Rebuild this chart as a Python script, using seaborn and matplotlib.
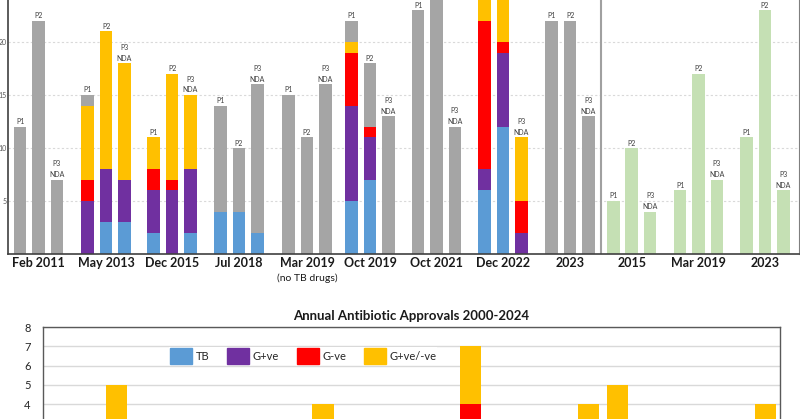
import numpy as np
import pandas as pd
import seaborn as sns
import matplotlib.pyplot as plt
from matplotlib.patches import Patch

sns.set_style("white")
plt.rcParams['font.family'] = ['Lato', 'DejaVu Sans']

# Top panel: pipeline snapshots, three bars (P1, P2, P3/NDA) per snapshot
snapshots = ["Feb 2011", "May 2013", "Dec 2015", "Jul 2018", "Mar 2019", "Oct 2019",
             "Oct 2021", "Dec 2022", "2023", "2015", "Mar 2019", "2023"]
snapshot_notes = ["", "", "", "", "(no TB drugs)", "", "", "", "", "", "", ""]
panel = ["gray"] * 9 + ["green"] * 3
phases = ["P1", "P2", "P3"]

# values per bar, snapshot by snapshot (P1, P2, P3)
tb = [0, 0, 0,  0, 3, 3,  2, 0, 2,  4, 4, 2,  0, 0, 0,  5, 7, 0,
      0, 0, 0,  6, 12, 0,  0, 0, 0,  0, 0, 0,  0, 0, 0,  0, 0, 0]
gpos = [0, 0, 0,  5, 5, 4,  4, 6, 6,  0, 0, 0,  0, 0, 0,  9, 4, 0,
        0, 0, 0,  2, 7, 2,  0, 0, 0,  0, 0, 0,  0, 0, 0,  0, 0, 0]
gneg = [0, 0, 0,  2, 0, 0,  2, 1, 0,  0, 0, 0,  0, 0, 0,  5, 1, 0,
        0, 0, 0,  14, 1, 3,  0, 0, 0,  0, 0, 0,  0, 0, 0,  0, 0, 0]
broad = [0, 0, 0,  7, 13, 11,  3, 10, 7,  0, 0, 0,  0, 0, 0,  1, 0, 0,
         0, 0, 0,  4, 6, 6,  0, 0, 0,  0, 0, 0,  0, 0, 0,  0, 0, 0]
other = [12, 22, 7,  1, 0, 0,  0, 0, 0,  10, 6, 14,  15, 11, 16,  2, 6, 13,
         23, 26, 12,  0, 0, 0,  22, 22, 13,  5, 10, 4,  6, 17, 7,  11, 23, 6]

# Bottom panel: annual approvals
years = list(range(2000, 2025))
ann_tb = [0, 0, 0, 0, 0, 0, 0, 0, 0, 0, 0, 0, 1, 0, 0, 0, 0, 0, 0, 1, 0, 0, 0, 0, 0]
ann_gpos = [1, 0, 0, 1, 0, 1, 0, 0, 0, 1, 1, 0, 0, 0, 3, 0, 0, 1, 0, 0, 0, 0, 0, 0, 0]
ann_gneg = [0, 0, 0, 0, 0, 0, 0, 0, 0, 0, 0, 0, 0, 0, 1, 1, 0, 1, 1, 0, 0, 0, 0, 1, 0]
ann_broad = [1, 2, 5, 2, 1, 1, 0, 1, 0, 3, 0, 0, 0, 1, 3, 1, 0, 1, 3, 4, 1, 0, 0, 1, 4]

c_tb, c_gpos, c_gneg, c_broad = "#5B9BD5", "#7030A0", "#FF0000", "#FFC000"
c_gray, c_green = "#A5A5A5", "#C5E0B4"

# group centres along the top axis (layout only)
group_pos = [0, 1.022, 2.021, 3.035, 4.064, 5.018, 6.025, 7.032, 8.046, 8.98, 9.991, 10.995]

fig = plt.figure(figsize=(8, 4.19), dpi=100)

# ---------- top panel ----------
off = 0.2786
df = pd.DataFrame({
    "group": np.repeat(np.arange(len(snapshots)), 3),
    "phase": phases * len(snapshots),
    "panel": np.repeat(panel, 3),
    "tb": tb, "gpos": gpos, "gneg": gneg, "broad": broad, "other": other,
})
df["x"] = np.repeat(group_pos, 3) + (df["phase"].map({"P1": -1, "P2": 0, "P3": 1})) * off
df["c1"] = df["tb"]
df["c2"] = df["c1"] + df["gpos"]
df["c3"] = df["c2"] + df["gneg"]
df["c4"] = df["c3"] + df["broad"]
df["c5"] = df["c4"] + df["other"]

ax = fig.add_axes([8 / 800, 165 / 419, 791 / 800, 30 * 10.6 / 419])
bw = 0.19 / off
kw = dict(native_scale=True, width=bw, errorbar=None, saturation=1, linewidth=0, ax=ax)
for col in ["gray", "green"]:
    sub = df[df["panel"] == col]
    sns.barplot(data=sub, x="x", y="c5", color=c_gray if col == "gray" else c_green, **kw)
for ycol, c in [("c4", c_broad), ("c3", c_gneg), ("c2", c_gpos), ("c1", c_tb)]:
    sns.barplot(data=df, x="x", y=ycol, color=c, **kw)

ax.set_xlim(-0.4617, 11.512)
ax.set_ylim(0, 30)
ax.set_yticks([5, 10, 15, 20])
ax.set_yticklabels(["5", "10", "15", "20"])
ax.tick_params(axis="y", length=0, pad=1, labelsize=5, labelcolor="#595959")
ax.set_xticks([])
ax.set_xlabel("")
ax.set_ylabel("")
for y in [5, 10, 15, 20, 25]:
    ax.axhline(y, color="#D9D9D9", lw=0.8, ls=(0, (2, 2)), zorder=0)
ax.set_axisbelow(True)
for s in ["left", "bottom"]:
    ax.spines[s].set_color("#404040")
    ax.spines[s].set_linewidth(1.2)
ax.spines["right"].set_color("#7F7F7F")
ax.spines["top"].set_visible(False)
ax.axvline(8.513, color="#A0A0A0", lw=1.5)

for _, r in df.iterrows():
    top = r["c5"]
    if top > 23.5:
        continue  # label sits above the visible area
    if r["phase"] == "P3":
        ax.annotate("NDA", (r["x"], top), xytext=(0, 3.6), textcoords="offset points",
                    ha="center", va="center", fontsize=5, color="#404040")
        ax.annotate("P3", (r["x"], top), xytext=(0, 11.5), textcoords="offset points",
                    ha="center", va="center", fontsize=5, color="#404040")
    else:
        ax.annotate(r["phase"], (r["x"], top), xytext=(0, 3.6), textcoords="offset points",
                    ha="center", va="center", fontsize=5, color="#404040")

for g, (name, note) in enumerate(zip(snapshots, snapshot_notes)):
    ax.text(group_pos[g], -0.85, name, ha="center", va="center", fontsize=9,
            fontweight="bold", color="#1a1a1a", clip_on=False)
    if note:
        ax.text(group_pos[g], -2.3, note, ha="center", va="center", fontsize=7.5,
                color="#1a1a1a", clip_on=False)

# ---------- bottom panel ----------
bx = fig.add_axes([43 / 800, (419 - 481.4) / 419, 737 / 800, 154.4 / 419])
ann = pd.DataFrame({"year": years, "tb": ann_tb, "gpos": ann_gpos,
                    "gneg": ann_gneg, "broad": ann_broad})
ann["i"] = np.arange(len(years))
ann["c1"] = ann["tb"]
ann["c2"] = ann["c1"] + ann["gpos"]
ann["c3"] = ann["c2"] + ann["gneg"]
ann["c4"] = ann["c3"] + ann["broad"]
kw2 = dict(native_scale=True, width=0.72, errorbar=None, saturation=1, linewidth=0, ax=bx)
for ycol, c in [("c4", c_broad), ("c3", c_gneg), ("c2", c_gpos), ("c1", c_tb)]:
    sns.barplot(data=ann, x="i", y=ycol, color=c, **kw2)
bx.set_xlim(-0.5, len(years) - 0.5)
bx.set_ylim(0, 8)
# only the upper part of this panel is inside the picture
bx.set_yticks(range(4, 9))
bx.grid(axis="y", color="#D9D9D9", lw=1)
bx.set_axisbelow(True)
bx.set_xticks([])
bx.set_xlabel("")
bx.set_ylabel("")
bx.tick_params(axis="y", length=0, pad=9, labelsize=8, labelcolor="#262626")
for s in ["left", "top", "right"]:
    bx.spines[s].set_color("#595959")
    bx.spines[s].set_linewidth(1)
bx.set_title("Annual Antibiotic Approvals 2000-2024", fontsize=9.5, fontweight="bold",
             color="#1a1a1a", pad=5)

handles = [Patch(color=c_tb, label="TB"), Patch(color=c_gpos, label="G+ve"),
           Patch(color=c_gneg, label="G-ve"), Patch(color=c_broad, label="G+ve/-ve")]
bx.legend(handles=handles, ncol=4, loc="center", bbox_to_anchor=(0.353, 0.812),
          fontsize=8, handlelength=2.0, handleheight=1.75, handletextpad=0.3,
          columnspacing=1.6, frameon=True, facecolor="white", edgecolor="none",
          framealpha=1, borderpad=0.1, fancybox=False)

fig.savefig("out.png", dpi=100)
